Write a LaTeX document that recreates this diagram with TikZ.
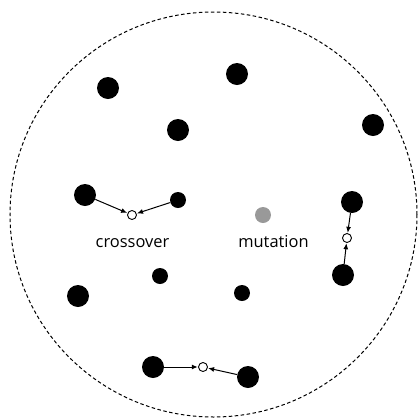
\documentclass[tikz,border=0pt]{standalone}
\usepackage{fontspec}
\setmainfont{Open Sans}
\usetikzlibrary{arrows.meta}
\begin{document}
\begin{tikzpicture}[x=1bp,y=-1bp,
  big/.style={circle,fill=black,inner sep=0pt,minimum size=22bp},
  small/.style={circle,fill=black,inner sep=0pt,minimum size=16bp},
  gray/.style={circle,fill=black!40,inner sep=0pt,minimum size=16bp},
  child/.style={circle,draw=black,fill=white,line width=0.9bp,inner sep=0pt,minimum size=9bp},
  link/.style={line width=1bp,-{Latex[length=6bp,width=5bp]},shorten >=0.3bp},
  lbl/.style={font=\fontsize{16.5}{19}\selectfont,inner sep=0pt,anchor=base}]
\useasboundingbox (0,0) rectangle (419,419);
\draw[line width=1bp,dash pattern=on 3.5bp off 2.5bp] (213.5,214.5) ellipse [x radius=203.5bp, y radius=202.5bp];
\node[big] (a) at (108,88) {};
\node[big] (b) at (237,74) {};
\node[big] (c) at (178,130) {};
\node[big] (d) at (373,125) {};
\node[big] (p1) at (85,195) {};
\node[small] (p2) at (178,200) {};
\node[child] (c1) at (132,215) {};
\node[lbl] (t1) at (132.5,247) {crossover};
\node[gray] (m) at (263,215) {};
\node[lbl] (t2) at (273.5,247) {mutation};
\node[big] (q1) at (352,202) {};
\node[child] (c2) at (347,238) {};
\node[big] (q2) at (343,275) {};
\node[small] (e) at (160,276) {};
\node[big] (f) at (78,296) {};
\node[small] (g) at (242,293) {};
\node[big] (r1) at (153,367) {};
\node[child] (c3) at (203,367) {};
\node[big] (r2) at (248,377) {};
\draw[link] (p1) -- (c1);
\draw[link] (p2) -- (c1);
\draw[link] (q1) -- (c2);
\draw[link] (q2) -- (c2);
\draw[link] (r1) -- (c3);
\draw[link] (r2) -- (c3);
\end{tikzpicture}
\end{document}
